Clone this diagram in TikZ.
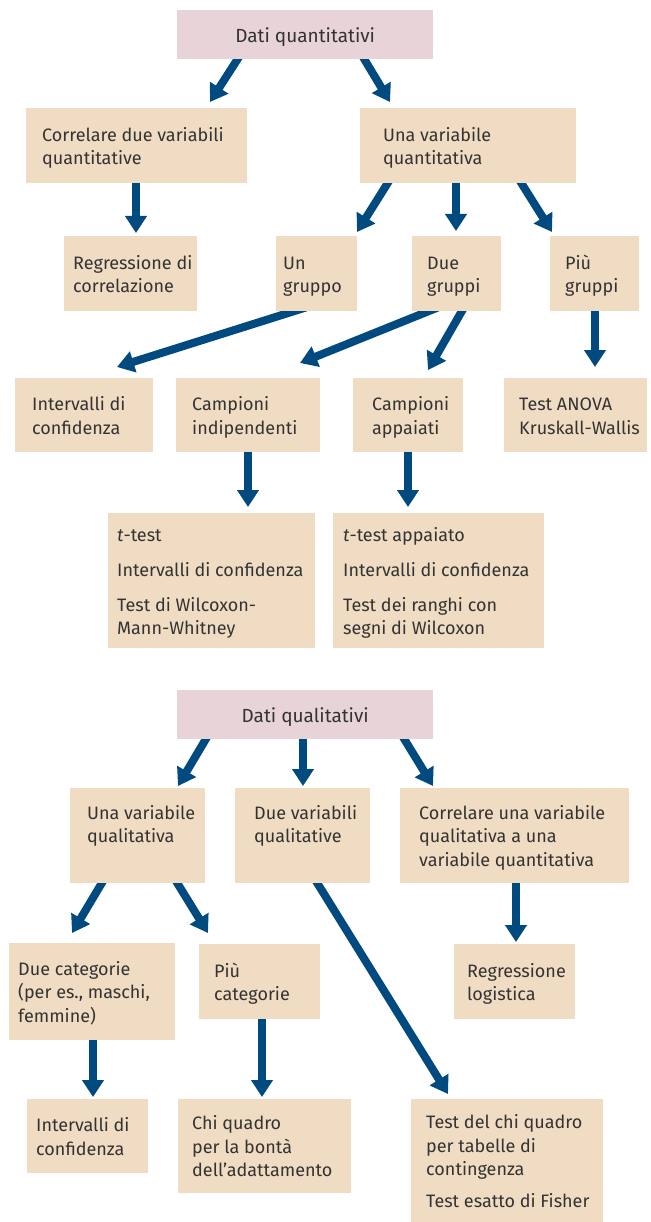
\documentclass[tikz,border=0pt]{standalone}
\usepackage{fontspec}
\setmainfont{Fira Sans}
\usetikzlibrary{arrows.meta}
\definecolor{boxtan}{RGB}{240,220,195}
\definecolor{pinkbox}{RGB}{232,212,216}
\definecolor{arrblue}{RGB}{0,74,127}
\definecolor{txt}{RGB}{51,51,51}
\pgfdeclarelayer{bg}
\pgfsetlayers{bg,main}
\newcommand\bxt[3]{\makebox[#1pt][l]{\hspace*{#2pt}\raisebox{-2.5pt}[\height][\depth]{\begin{tabular}{@{}l@{}}#3\end{tabular}}}}
\newcommand\ttl[1]{\makebox[256pt]{\raisebox{-2.5pt}[\height][\depth]{#1}}}
\begin{document}
\begin{tikzpicture}[x=1pt,y=-1pt,
  bx/.style 2 args={draw=none, fill=boxtan, anchor=north west, inner sep=0pt,
    minimum width=#1pt, minimum height=#2pt, text=txt,
    font=\fontsize{18}{23.5}\selectfont},
  tbx/.style 2 args={bx={#1}{#2}, fill=pinkbox, font=\fontsize{19}{23.5}\selectfont},
  arr/.style={draw=arrblue, line width=8pt, -{Triangle[width=21pt,length=17pt]}}]
\useasboundingbox (0,0) rectangle (650,1222);
% ---- quantitative part
\node[tbx={256}{49}] (dq) at (177,10) {\ttl{Dati quantitativi}};
\node[bx={221}{75}] (cor) at (26,108) {\bxt{221}{16}{Correlare due variabili\\quantitative}};
\node[bx={216}{75}] (una) at (360,108) {\bxt{216}{23}{Una variabile\\quantitativa}};
\node[bx={133}{75}] (reg) at (64,236) {\bxt{133}{9}{Regressione di\\correlazione}};
\node[bx={81}{75}] (un) at (276,236) {\bxt{81}{7}{Un\\gruppo}};
\node[bx={89}{75}] (due) at (412,236) {\bxt{89}{15}{Due\\gruppi}};
\node[bx={89}{75}] (piu) at (550,236) {\bxt{89}{15}{Più\\gruppi}};
\node[bx={138}{74}] (ic1) at (15,378) {\bxt{138}{17}{Intervalli di\\confidenza}};
\node[bx={144}{74}] (ci) at (176,378) {\bxt{144}{16}{Campioni\\indipendenti}};
\node[bx={110}{74}] (ca) at (353,378) {\bxt{110}{19}{Campioni\\appaiati}};
\node[bx={143}{74}] (anova) at (504,378) {\bxt{143}{15}{Test ANOVA\\Kruskall-Wallis}};
\node[bx={207}{135}] (tt) at (108,513) {\bxt{207}{9}{\textit{t}-test\\[11.5pt]Intervalli di confidenza\\[11.5pt]Test di Wilcoxon-\\Mann-Whitney}};
\node[bx={211}{135}] (tta) at (333,513) {\bxt{211}{10}{\textit{t}-test appaiato\\[11.5pt]Intervalli di confidenza\\[11.5pt]Test dei ranghi con\\segni di Wilcoxon}};
% ---- qualitative part
\node[tbx={256}{49}] (dql) at (177,690) {\ttl{Dati qualitativi}};
\node[bx={135}{95}] (uvq) at (70,788) {\bxt{135}{17}{Una variabile\\qualitativa\\~}};
\node[bx={135}{95}] (dvq) at (235,788) {\bxt{135}{19}{Due variabili\\qualitative\\~}};
\node[bx={229}{95}] (cvq) at (400,788) {\bxt{229}{19}{Correlare una variabile\\qualitativa a una\\variabile quantitativa}};
\node[bx={166}{97}] (dc) at (9,943) {\bxt{166}{9}{Due categorie\\(per es., maschi,\\femmine)}};
\node[bx={121}{75}] (pc) at (199,944) {\bxt{121}{15}{Più\\categorie}};
\node[bx={121}{75}] (rl) at (454,944) {\bxt{121}{13}{Regressione\\logistica}};
\node[bx={121}{74}] (ic2) at (27,1099) {\bxt{121}{9}{Intervalli di\\confidenza}};
\node[bx={173}{94}] (chi) at (178,1099) {\bxt{173}{14}{Chi quadro\\per la bontà\\dell’adattamento}};
\node[bx={192}{123}] (tc) at (411,1099) {\bxt{192}{15}{Test del chi quadro\\per tabelle di\\contingenza\\[8pt]Test esatto di Fisher}};
% ---- connectors
\begin{pgfonlayer}{bg}
\draw[arr] ([xshift=63pt,yshift=4pt]dq.south west) -- ([xshift=184pt,yshift=6pt]cor.north west);
\draw[arr] ([xshift=185pt,yshift=4pt]dq.south west) -- ([xshift=30pt,yshift=6pt]una.north west);
\draw[arr] ([xshift=110pt,yshift=4pt]cor.south west) -- ([xshift=72pt,yshift=3pt]reg.north west);
\draw[arr] ([xshift=30pt,yshift=4pt]una.south west) -- ([xshift=81pt,yshift=4pt]un.north west);
\draw[arr] ([xshift=96pt,yshift=4pt]una.south west) -- ([xshift=44pt,yshift=5pt]due.north west);
\draw[arr] ([xshift=159pt,yshift=4pt]una.south west) -- ([xshift=2pt,yshift=4pt]piu.north west);
\draw[arr] ([xshift=30pt,yshift=4pt]un.south west) -- ([xshift=102pt,yshift=11pt]ic1.north west);
\draw[arr] ([xshift=26pt,yshift=4pt]due.south west) -- ([xshift=124pt,yshift=15pt]ci.north west);
\draw[arr] ([xshift=52pt,yshift=4pt]due.south west) -- ([xshift=75pt,yshift=8pt]ca.north west);
\draw[arr] ([xshift=45pt,yshift=4pt]piu.south west) -- ([xshift=91pt,yshift=11pt]anova.north west);
\draw[arr] ([xshift=72pt,yshift=4pt]ci.south west) -- ([xshift=140pt,yshift=6pt]tt.north west);
\draw[arr] ([xshift=55pt,yshift=4pt]ca.south west) -- ([xshift=75pt,yshift=6pt]tta.north west);
\draw[arr] ([xshift=31pt,yshift=4pt]dql.south west) -- ([xshift=108pt,yshift=2pt]uvq.north west);
\draw[arr] ([xshift=126pt,yshift=4pt]dql.south west) -- ([xshift=68pt,yshift=2pt]dvq.north west);
\draw[arr] ([xshift=225pt,yshift=4pt]dql.south west) -- ([xshift=33pt,yshift=2pt]cvq.north west);
\draw[arr] ([xshift=34pt,yshift=4pt]uvq.south west) -- ([xshift=63pt,yshift=10pt]dc.north west);
\draw[arr] ([xshift=105pt,yshift=4pt]uvq.south west) -- ([xshift=9pt,yshift=11pt]pc.north west);
\draw[arr] ([xshift=80pt,yshift=4pt]dvq.south west) -- ([xshift=37pt,yshift=5pt]tc.north west);
\draw[arr] ([xshift=116pt,yshift=4pt]cvq.south west) -- ([xshift=62pt,yshift=2pt]rl.north west);
\draw[arr] ([xshift=84pt,yshift=4pt]dc.south west) -- ([xshift=66pt,yshift=2pt]ic2.north west);
\draw[arr] ([xshift=63pt,yshift=4pt]pc.south west) -- ([xshift=84pt,yshift=2pt]chi.north west);
\end{pgfonlayer}
\end{tikzpicture}
\end{document}
